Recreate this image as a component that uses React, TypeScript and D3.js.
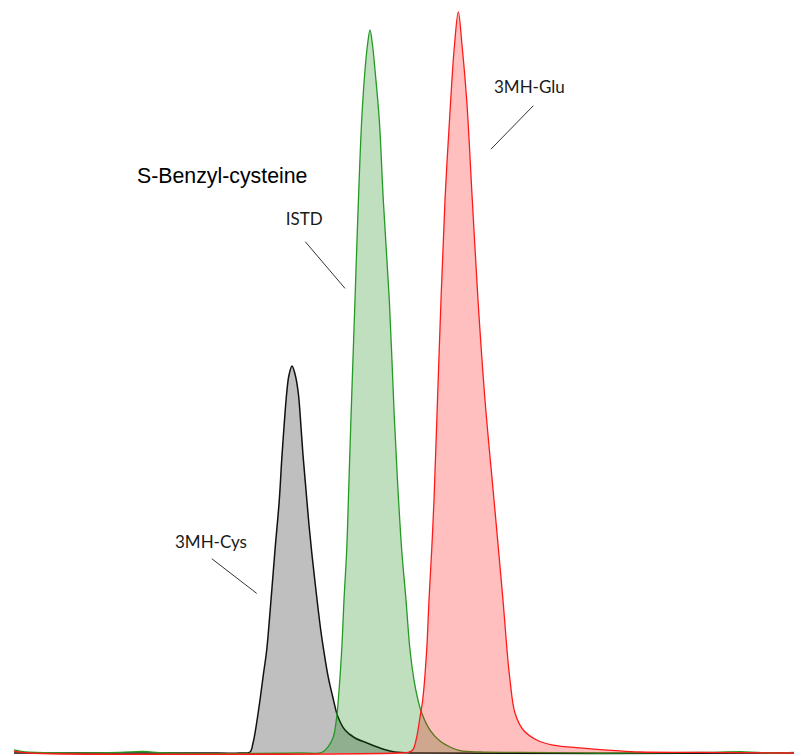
import React from "react";
import * as d3 from "d3";

// retention time (min) and relative intensity (%)
const cysTime = [0, 1.86, 2.26, 2.36, 2.39, 2.415, 2.46, 2.493, 2.527, 2.57, 2.61, 2.653, 2.677, 2.7, 2.727, 2.75, 2.78, 2.81, 2.843, 2.87, 2.89, 2.92, 2.95, 2.98, 3.01, 3.04, 3.07, 3.1, 3.14, 3.19, 3.24, 3.31, 3.41, 3.53, 3.66, 3.81, 4.06, 7.8];
const cysValue = [0, 0, 0, 0.13, 1.33, 3.05, 7.04, 10.36, 13.68, 20.32, 26.96, 33.6, 38.9, 43.29, 47.81, 50.2, 51.39, 50.33, 47.81, 43.29, 39.58, 34.93, 30.28, 26.29, 22.71, 19.26, 16.07, 13.41, 10.23, 7.3, 4.78, 3.05, 1.99, 1.33, 0.66, 0.13, 0, 0];

const istdTime = [0, 0.11, 0.46, 1.06, 1.29, 1.51, 2.86, 3.08, 3.14, 3.193, 3.227, 3.243, 3.277, 3.3, 3.327, 3.35, 3.37, 3.41, 3.437, 3.477, 3.51, 3.535, 3.56, 3.585, 3.61, 3.653, 3.693, 3.753, 3.803, 3.84, 3.877, 3.92, 3.96, 4.0, 4.04, 4.077, 4.16, 4.26, 4.36, 4.46, 4.66, 5.06, 5.86, 6.86, 7.31, 7.56, 7.8];
const istdValue = [0.4, 0.13, 0, 0.07, 0.2, 0, 0, 0.07, 0.8, 2.12, 4.78, 7.04, 13.68, 20.32, 26.96, 36.25, 44.62, 60.16, 70.78, 84.06, 90.7, 94.02, 96.02, 94.02, 90.7, 84.06, 73.44, 60.16, 44.62, 34.93, 26.96, 20.32, 13.68, 9.69, 7.04, 5.31, 3.05, 1.59, 0.8, 0.33, 0.13, 0.07, 0, 0.07, 0.16, 0, 0.07];

const gluTime = [0, 0.16, 3.86, 3.94, 3.987, 4.027, 4.06, 4.087, 4.127, 4.15, 4.177, 4.2, 4.235, 4.27, 4.31, 4.367, 4.405, 4.443, 4.48, 4.527, 4.583, 4.64, 4.71, 4.8, 4.89, 4.93, 4.96, 5.01, 5.093, 5.227, 5.39, 5.69, 6.02, 6.26, 6.86, 7.8];
const gluValue = [0.26, 0, 0, 0.07, 0.4, 2.12, 4.78, 7.04, 13.68, 20.32, 26.96, 33.6, 46.88, 60.16, 73.44, 86.72, 94.02, 98.41, 94.02, 86.72, 73.44, 60.16, 46.88, 33.6, 20.32, 13.68, 9.69, 5.31, 3.05, 1.73, 1.06, 0.66, 0.31, 0.13, 0.07, 0];

const title = "S-Benzyl-cysteine";

const W = 794;
const H = 755;

export default function App() {
  const x = d3.scaleLinear().domain([0, 7.8]).range([14, 794]);
  const y = d3.scaleLinear().domain([0, 100]).range([753, 0]);

  const series = [
    { name: "3MH-Cys", t: cysTime, v: cysValue, stroke: "#111", fill: "#000", sw: 1.5 },
    { name: "ISTD", t: istdTime, v: istdValue, stroke: "#259925", fill: "#008000", sw: 1.3 },
    { name: "3MH-Glu", t: gluTime, v: gluValue, stroke: "#ff1a1a", fill: "#ff0000", sw: 1.3 },
  ];

  const curve = d3.curveCatmullRom.alpha(0.5);
  const area = d3
    .area<[number, number]>()
    .x((d) => x(d[0]))
    .y0(y(0))
    .y1((d) => y(d[1]))
    .curve(curve);
  const line = d3
    .line<[number, number]>()
    .x((d) => x(d[0]))
    .y((d) => y(d[1]))
    .curve(curve);

  // label positions and leader lines, in peak coordinates
  const labels = [
    { text: "ISTD", tx: 2.717, ty: 70.1, l: [[2.913, 67.9], [3.31, 61.7]] },
    { text: "3MH-Cys", tx: 1.61, ty: 27.2, l: [[1.978, 25.8], [2.427, 21.2]] },
    { text: "3MH-Glu", tx: 4.8, ty: 87.6, l: [[5.193, 85.96], [4.77, 80.2]] },
  ];

  return (
    <svg
      width={W}
      height={H}
      style={{ position: "absolute", left: 0, top: 0, background: "#fff" }}
    >
      {series.map((s) => {
        const pts = s.t.map((t, i) => [t, s.v[i]] as [number, number]);
        return (
          <g key={s.name}>
            <path d={area(pts) || ""} fill={s.fill} fillOpacity={0.25} />
            <path d={line(pts) || ""} fill="none" stroke={s.stroke} strokeWidth={s.sw} />
          </g>
        );
      })}
      <text
        x={137}
        y={183}
        fontFamily="'Liberation Sans', Arial, sans-serif"
        fontSize={21.3}
        fill="#000"
      >
        {title}
      </text>
      {labels.map((lb) => (
        <g key={lb.text}>
          <text
            x={x(lb.tx)}
            y={y(lb.ty)}
            fontFamily="Lato, 'Open Sans', sans-serif"
            fontSize={17}
            fill="#1a1a1a"
          >
            {lb.text}
          </text>
          <line
            x1={x(lb.l[0][0])}
            y1={y(lb.l[0][1])}
            x2={x(lb.l[1][0])}
            y2={y(lb.l[1][1])}
            stroke="#333"
            strokeWidth={1}
          />
        </g>
      ))}
    </svg>
  );
}
